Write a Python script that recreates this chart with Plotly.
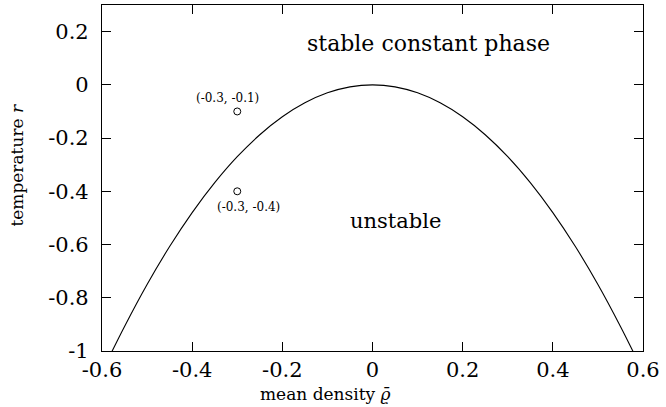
import plotly.graph_objects as go

# Stability boundary r(rho) of the constant phase, sampled along rho
rho = [-0.60, -0.5774, -0.55, -0.50, -0.45, -0.40, -0.35, -0.30, -0.25, -0.20, -0.15, -0.10, -0.05,
       0.00, 0.05, 0.10, 0.15, 0.20, 0.25, 0.30, 0.35, 0.40, 0.45, 0.50, 0.55, 0.5774, 0.60]
r_boundary = [-1.08, -1.0, -0.9075, -0.75, -0.6075, -0.48, -0.3675, -0.27, -0.1875, -0.12, -0.0675, -0.03, -0.0075,
              0.0, -0.0075, -0.03, -0.0675, -0.12, -0.1875, -0.27, -0.3675, -0.48, -0.6075, -0.75, -0.9075, -1.0, -1.08]

# Marked state points
pt_rho = [-0.3, -0.3]
pt_r = [-0.1, -0.4]
pt_labels = ["(-0.3, -0.1)", "(-0.3, -0.4)"]

x_ticks = [-0.6, -0.4, -0.2, 0, 0.2, 0.4, 0.6]
y_ticks = [-1, -0.8, -0.6, -0.4, -0.2, 0, 0.2]

FONT = "DejaVu Serif"

fig = go.Figure()
fig.add_trace(go.Scatter(x=rho, y=r_boundary, mode="lines", line=dict(color="black", width=1.1, shape="spline"),
                         hoverinfo="skip", showlegend=False))
fig.add_trace(go.Scatter(x=pt_rho, y=pt_r, mode="markers",
                         marker=dict(symbol="circle-open", size=7, color="black", line=dict(width=1)),
                         showlegend=False))

# point labels: one above, one below
fig.add_annotation(x=pt_rho[0], y=pt_r[0], text=pt_labels[0], showarrow=False, yshift=13, xshift=-10,
                   font=dict(family=FONT, size=12, color="black"))
fig.add_annotation(x=pt_rho[1], y=pt_r[1], text=pt_labels[1], showarrow=False, yshift=-16, xshift=11,
                   font=dict(family=FONT, size=12, color="black"))

fig.add_annotation(x=0.125, y=0.154, text="stable constant phase", showarrow=False,
                   font=dict(family=FONT, size=22, color="black"))
fig.add_annotation(x=0.05, y=-0.51, text="unstable", showarrow=False,
                   font=dict(family=FONT, size=21, color="black"))

fig.add_annotation(x=0.5, xref="paper", xanchor="center", y=-0.125, yref="paper", yanchor="middle",
                   xshift=-47, text="mean density <i>ϱ̄</i>", showarrow=False,
                   font=dict(family=FONT, size=17, color="black"))
fig.add_annotation(x=-0.18, xref="paper", y=0.5, yref="paper", yshift=13, textangle=-90,
                   text="temperature <i>r</i>", showarrow=False,
                   font=dict(family=FONT, size=17, color="black"))

axis_common = dict(showgrid=False, zeroline=False, showline=True, linecolor="black", linewidth=1.2,
                   mirror="allticks", ticks="inside", ticklen=9, tickcolor="black", tickwidth=1,
                   tickfont=dict(family=FONT, size=21, color="black"))

fig.update_xaxes(range=[-0.6, 0.6], tickvals=x_ticks, ticktext=["-0.6", "-0.4", "-0.2", "0", "0.2", "0.4", "0.6"],
                 ticklabelstandoff=0, **axis_common)
fig.update_yaxes(range=[-1, 0.3], tickvals=y_ticks, ticktext=["-1", "-0.8", "-0.6", "-0.4", "-0.2", "0", "0.2"],
                 ticklabelstandoff=8, **axis_common)

fig.update_layout(width=666, height=407, margin=dict(l=102, r=23, t=5, b=56),
                  plot_bgcolor="white", paper_bgcolor="white")

fig.write_html("out.html")
